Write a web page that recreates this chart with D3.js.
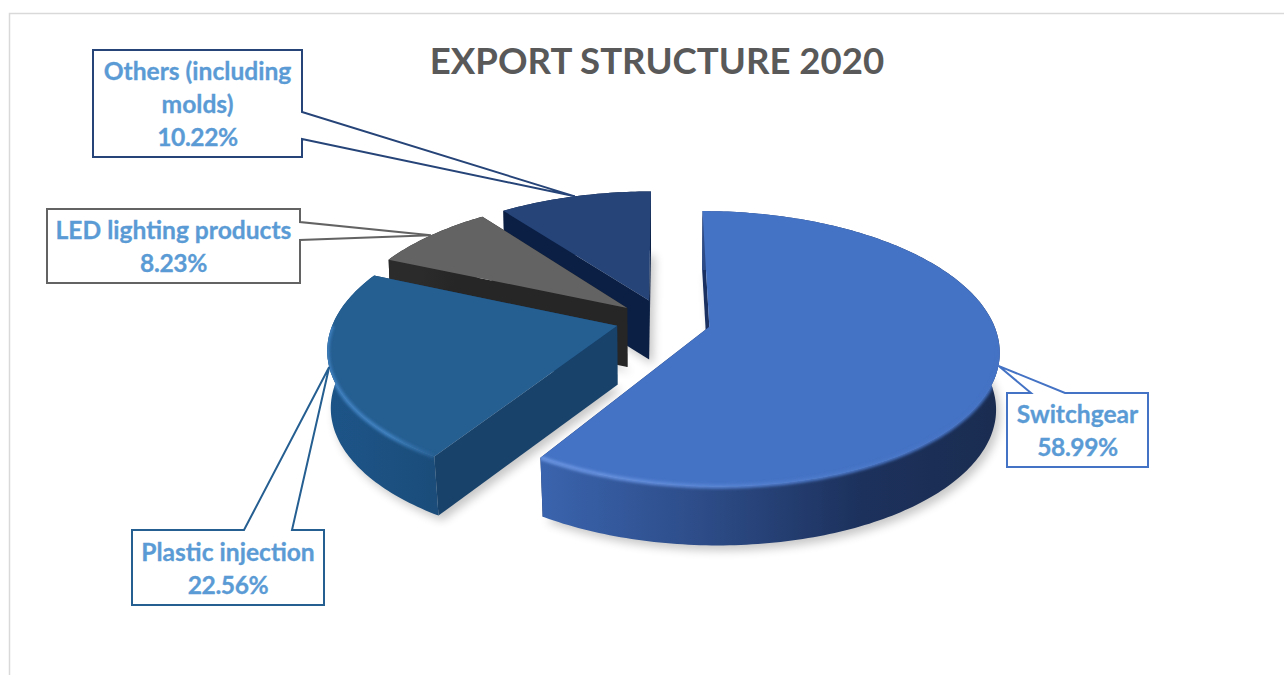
<!DOCTYPE html>
<html>
<head>
<meta charset="utf-8">
<script src="https://cdn.jsdelivr.net/npm/d3@7"></script>
<style>
  html, body { margin: 0; padding: 0; background: white; }
  svg { display: block; }
  text { font-family: Lato, Carlito, sans-serif; font-weight: 700; }
</style>
</head>
<body>
<svg width="1284" height="675"></svg>
<script>
const categories = ['Switchgear', 'Plastic injection', 'LED lighting products', 'Others (including molds)'];
const values = [58.99, 22.56, 8.23, 10.22];
const labelLines = [['Switchgear'], ['Plastic injection'], ['LED lighting products'], ['Others (including', 'molds)']];
const title = 'EXPORT STRUCTURE 2020';

const explode = [0.18, 0.15, 0.15, 0.16];
const nudgeX = [0, -2, 0, 3];
const topColors = ['#4472c4', '#255e91', '#636363', '#264478'];
const faceColors = ['#1a3060', '#18426a', '#262626', '#0b1f44'];
const rimStops = [
  ['#3a64ae', '#2d4c88', '#1c315c', '#1a2c50'],
  ['#1d5487', '#1c5284', '#1b4f7e', '#1b4c7a'],
  ['#2b2b2b', '#2b2b2b', '#262626', '#262626'],
  ['#0b1f44', '#0b1f44', '#0b1f44', '#0b1f44']
];
const bevelColors = ['#6d97e4', '#3f82c2', null, null];

// label boxes, drawn in slice order
const boxes = [
  { x: 1007, y: 393, w: 141, h: 74, side: 'top', a: 1031, b: 1065 },
  { x: 132, y: 530, w: 192, h: 75, side: 'top', a: 244, b: 292 },
  { x: 47, y: 209, w: 253, h: 74, side: 'right', a: 222, b: 240 },
  { x: 93, y: 50, w: 209, h: 107, side: 'right', a: 112, b: 139 }
];

// perspective of the pie plane
const cx = 660, cy = 320, R = 283, Ry = 132, persp = 0.159, depth = 59;

const svg = d3.select('svg');
const defs = svg.append('defs');

defs.append('filter').attr('id', 'shadow')
  .attr('x', '-10%').attr('y', '-10%').attr('width', '120%').attr('height', '120%')
  .append('feGaussianBlur').attr('stdDeviation', 5);
defs.append('filter').attr('id', 'soft')
  .attr('x', '-5%').attr('y', '-5%').attr('width', '110%').attr('height', '110%')
  .append('feGaussianBlur').attr('stdDeviation', 1.6);

const pie = d3.pie().sort(null).startAngle(0).endAngle(2 * Math.PI);
const arcs = pie(values);

const line = d3.line();

function project(i, angle, r, z) {
  const mid = (arcs[i].startAngle + arcs[i].endAngle) / 2;
  const u = explode[i] * Math.sin(mid) + r * Math.sin(angle);
  const v = explode[i] * Math.cos(mid) + r * Math.cos(angle);
  const w = 1 + persp * v;
  // the underside pulls in a little, more so towards the viewer
  const shrink = 0.008 + 0.012 * Math.max(0, -v);
  return [cx + nudgeX[i] + (R * u / w) * (1 - shrink * z), cy - Ry * v / w + depth * z];
}

function arcPoints(i, a0, a1, z) {
  const step = Math.PI / 180;
  const angles = d3.range(a0, a1, step).concat([a1]);
  return angles.map(a => project(i, a, 1, z));
}

// soft shadow under everything
arcs.forEach((d, i) => {
  const outline = [project(i, 0, 0, 1)].concat(arcPoints(i, d.startAngle, d.endAngle, 1));
  svg.append('path')
    .attr('d', line(outline) + 'Z')
    .attr('transform', 'translate(4,5)')
    .attr('fill', '#000')
    .attr('opacity', 0.22)
    .attr('filter', 'url(#shadow)');
});

// frame of the chart area
svg.append('path')
  .attr('d', line([[9.5, 675], [9.5, 13.5], [1284, 13.5]]))
  .attr('fill', 'none')
  .attr('stroke', '#d9d9d9')
  .attr('stroke-width', 1.5);

function face(i, angle) {
  return line([project(i, angle, 1, 0), project(i, 0, 0, 0), project(i, 0, 0, 1), project(i, angle, 1, 1)]) + 'Z';
}

// back slices first, the big one last
[3, 2, 1, 0].forEach(i => {
  const d = arcs[i];
  const rimTop = arcPoints(i, d.startAngle, d.endAngle, 0);
  const rimBottom = arcPoints(i, d.startAngle, d.endAngle, 1);
  const xs = d3.extent(rimTop.concat(rimBottom), p => p[0]);
  const rimPath = line(rimTop.concat(rimBottom.slice().reverse())) + 'Z';
  const topPath = line([project(i, 0, 0, 0)].concat(rimTop)) + 'Z';

  const rimGrad = defs.append('linearGradient').attr('id', 'rim' + i)
    .attr('gradientUnits', 'userSpaceOnUse')
    .attr('x1', xs[0]).attr('x2', xs[1]).attr('y1', 0).attr('y2', 0);
  [0, 0.35, 0.7, 1].forEach((o, k) => {
    rimGrad.append('stop').attr('offset', o).attr('stop-color', rimStops[i][k]);
  });

  const g = svg.append('g').attr('class', 'slice');

  g.append('path').attr('d', face(i, d.endAngle)).attr('fill', faceColors[i]);
  g.append('path').attr('d', face(i, d.startAngle)).attr('fill', faceColors[i]);
  g.append('path').attr('d', rimPath).attr('fill', 'url(#rim' + i + ')');
  g.append('path').attr('d', topPath).attr('fill', topColors[i]);

  // lighter edge where the top turns into the rim
  if (bevelColors[i]) {
    const from = Math.max(d.startAngle, Math.PI * 0.55);
    const to = Math.min(d.endAngle, Math.PI * 1.5);
    const grad = defs.append('linearGradient').attr('id', 'bevel' + i)
      .attr('gradientUnits', 'userSpaceOnUse')
      .attr('x1', xs[0]).attr('x2', xs[1]).attr('y1', 0).attr('y2', 0);
    grad.append('stop').attr('offset', 0).attr('stop-color', bevelColors[i]);
    grad.append('stop').attr('offset', 0.55).attr('stop-color', i == 0 ? '#4f7ccd' : bevelColors[i]);
    grad.append('stop').attr('offset', 1).attr('stop-color', topColors[i]);
    defs.append('clipPath').attr('id', 'body' + i)
      .append('path').attr('d', rimPath + topPath);
    g.append('g').attr('clip-path', 'url(#body' + i + ')')
      .append('path')
      .attr('d', line(arcPoints(i, from, to, 0)))
      .attr('fill', 'none')
      .attr('stroke', 'url(#bevel' + i + ')')
      .attr('stroke-width', 4)
      .attr('filter', 'url(#soft)');
  }
});

function boxPath(b, tip) {
  const p = d3.path();
  p.moveTo(b.x, b.y);
  if (b.side == 'top') {
    p.lineTo(b.a, b.y);
    p.lineTo(tip[0], tip[1]);
    p.lineTo(b.b, b.y);
  }
  p.lineTo(b.x + b.w, b.y);
  if (b.side == 'right') {
    p.lineTo(b.x + b.w, b.a);
    p.lineTo(tip[0], tip[1]);
    p.lineTo(b.x + b.w, b.b);
  }
  p.lineTo(b.x + b.w, b.y + b.h);
  p.lineTo(b.x, b.y + b.h);
  p.closePath();
  return p.toString();
}

arcs.forEach((d, i) => {
  const b = boxes[i];
  const mid = (d.startAngle + d.endAngle) / 2;
  const tip = project(i, mid, 1, 0);

  svg.append('path')
    .attr('d', boxPath(b, tip))
    .attr('fill', 'white')
    .attr('stroke', topColors[i])
    .attr('stroke-width', 2);

  const percent = values[i].toFixed(2) + '%';
  const lines = labelLines[i].concat([percent]);
  const lineHeight = 33;
  const firstY = b.y + b.h / 2 - (lines.length - 1) * lineHeight / 2 + 9.5;
  lines.forEach((t, k) => {
    svg.append('text')
      .attr('x', b.x + b.w / 2)
      .attr('y', firstY + k * lineHeight)
      .attr('text-anchor', 'middle')
      .attr('font-size', 24.6)
      .attr('letter-spacing', t == percent ? -0.4 : 0)
      .attr('fill', '#5b9bd5')
      .attr('stroke', '#5b9bd5')
      .attr('stroke-width', 0.3)
      .text(t);
  });
});

svg.append('text')
  .attr('x', 657)
  .attr('y', 74)
  .attr('text-anchor', 'middle')
  .attr('font-size', 36.6)
  .attr('fill', '#595959')
  .text(title);
</script>
</body>
</html>
